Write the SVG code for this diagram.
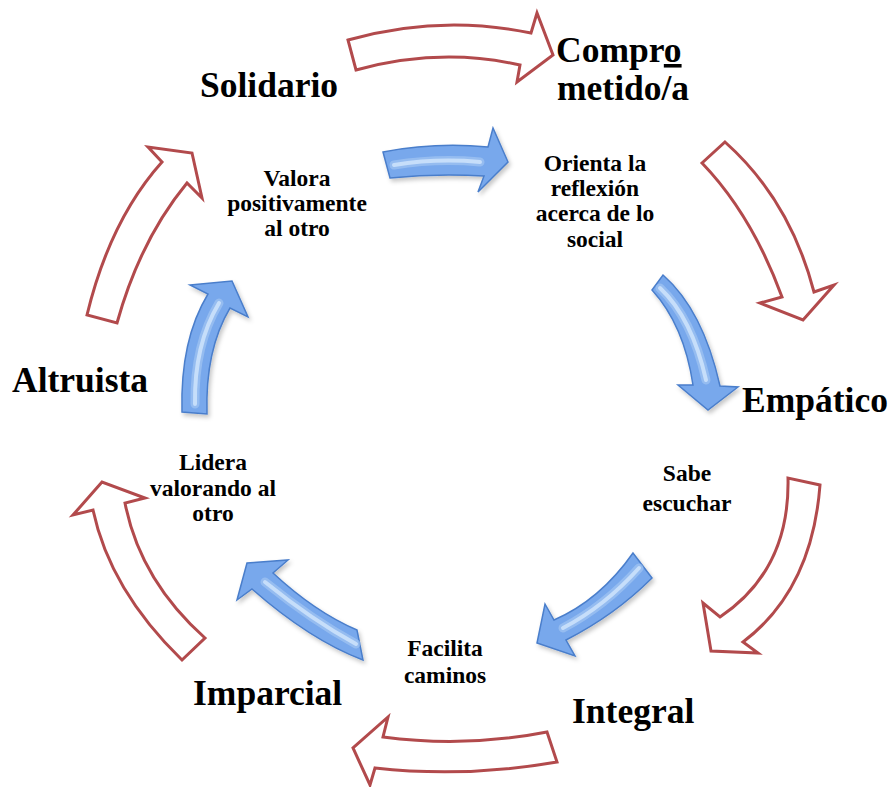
<svg xmlns="http://www.w3.org/2000/svg" width="890" height="787" viewBox="0 0 890 787">
<style>
.big{font-family:"Liberation Serif","Times New Roman",serif;font-weight:bold;font-size:35.5px;fill:#000}
.sm{font-family:"Liberation Serif","Times New Roman",serif;font-weight:bold;font-size:23.5px;fill:#000;text-anchor:middle}
.red{fill:#fff;stroke:#b24a4c;stroke-width:3;stroke-linejoin:miter}
.blue{fill:#78a8ec;stroke:#4a7ecb;stroke-width:1.5;stroke-linejoin:miter;filter:url(#sh)}
.hl{fill:none;stroke:#d2e6fc;stroke-width:4;stroke-linecap:round;opacity:0.8}
.hl2{fill:none;stroke:#a8c9f4;stroke-width:9;stroke-linecap:round;opacity:0.6}
</style>
<defs>
<filter id="sh" x="-20%" y="-20%" width="140%" height="140%">
<feDropShadow dx="2" dy="3" stdDeviation="2" flood-color="#000" flood-opacity="0.22"/>
</filter>
</defs>
<rect width="890" height="787" fill="#fff"/>
<g id="connectors">
<path class="red" d="M348,40 Q440,14 531,33 L537,13 L553,55 L517,82 L520,65 Q440,47 356,70 Z"/>
<path class="red" d="M725,142 Q790,200 814,292 L834,285 L803,320 L760,303 L782,297 Q752,215 702,163 Z"/>
<path class="red" d="M820,485 Q812,590 743,642 L758,653 L711,651 L703,603 L720,617 Q790,570 788,478 Z"/>
<path class="red" d="M547,732 Q465,748 383,737 L388,717 L353,748 L370,785 L375,768 Q465,778 557,762 Z"/>
<path class="red" d="M182,660 Q110,590 93,510 L73,515 L102,482 L145,498 L125,503 Q140,580 205,638 Z"/>
<path class="red" d="M87,315 Q110,220 162,162 L148,147 L192,153 L202,198 L187,183 Q140,240 117,323 Z"/>
<path class="blue" d="M383,152 Q435,142 488,147 L493,128 L508,162 L478,192 L484,176 Q437,173 390,178 Z"/>
<path class="hl2" d="M394,165 Q437,158 480,162"/>
<path class="hl" d="M394,165 Q437,158 480,162"/>
<path class="blue" d="M663,275 Q703,310 720,386 L738,387 L708,410 L678,385 L693,385 Q684,325 652,290 Z"/>
<path class="hl2" d="M660,288 Q692,318 706,380"/>
<path class="hl" d="M660,288 Q692,318 706,380"/>
<path class="blue" d="M633,553 Q600,600 554,620 L545,604 L537,643 L575,656 L566,640 Q615,615 652,578 Z"/>
<path class="hl2" d="M639,568 Q605,606 563,628"/>
<path class="hl" d="M639,568 Q605,606 563,628"/>
<path class="blue" d="M247,563 L288,560 L273,573 Q315,612 357,630 L363,660 Q310,640 252,589 L237,600 Z"/>
<path class="hl2" d="M265,582 Q312,620 356,644"/>
<path class="hl" d="M265,582 Q312,620 356,644"/>
<path class="blue" d="M182,412 Q180,340 208,294 L190,285 L232,281 L248,317 L230,308 Q205,350 207,414 Z"/>
<path class="hl2" d="M195,404 Q194,345 219,303"/>
<path class="hl" d="M195,404 Q194,345 219,303"/>
</g>
<g id="solidario"><text class="big" x="200" y="97">Solidario</text></g>
<g id="comprometido"><text class="big" x="556" y="62">Compr<tspan style="text-decoration:underline">o</tspan></text><text class="big" x="557" y="100">metido/a</text></g>
<g id="empatico"><text class="big" x="742" y="412">Empático</text></g>
<g id="integral"><text class="big" x="572" y="723">Integral</text></g>
<g id="imparcial"><text class="big" x="193" y="705">Imparcial</text></g>
<g id="altruista"><text class="big" x="12" y="392">Altruista</text></g>
<g id="valora"><text class="sm" x="297" y="186">Valora</text><text class="sm" x="297" y="211">positivamente</text><text class="sm" x="297" y="236">al otro</text></g>
<g id="orienta"><text class="sm" x="595" y="171">Orienta la</text><text class="sm" x="595" y="196">reflexión</text><text class="sm" x="595" y="221">acerca de lo</text><text class="sm" x="595" y="247">social</text></g>
<g id="sabe"><text class="sm" x="687" y="481">Sabe</text><text class="sm" x="687" y="511">escuchar</text></g>
<g id="facilita"><text class="sm" x="445" y="656">Facilita</text><text class="sm" x="445" y="683">caminos</text></g>
<g id="lidera"><text class="sm" x="213" y="470">Lidera</text><text class="sm" x="213" y="496">valorando al</text><text class="sm" x="213" y="521">otro</text></g>
</svg>
